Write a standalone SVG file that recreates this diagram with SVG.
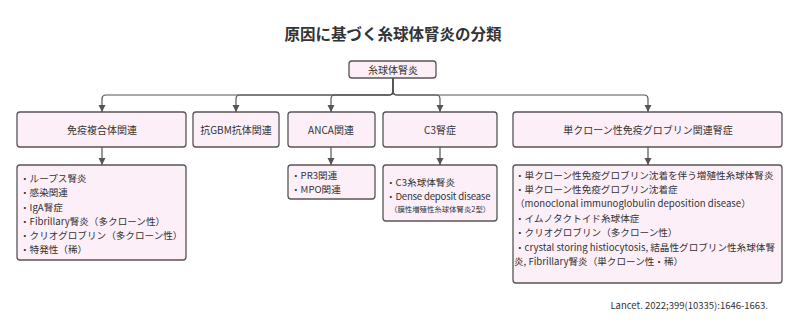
<svg xmlns="http://www.w3.org/2000/svg" width="800" height="330" viewBox="0 0 800 330">
<defs>
<style>
text{font-family:"Noto Sans CJK JP","Noto Sans",sans-serif;fill:#333;}
.title{font-size:15.5px;font-weight:bold;text-anchor:middle;}
.box{fill:#fdeff8;stroke:#555;stroke-width:1.3;}
.lbl{font-size:10px;text-anchor:middle;dominant-baseline:central;}
.itm{font-size:9.6px;dominant-baseline:central;}
.sm{font-size:7.4px;dominant-baseline:central;}
.edge{fill:none;stroke:#555;stroke-width:1.2;}
.ref{font-size:9.5px;text-anchor:end;dominant-baseline:central;}
</style>
<marker id="ah" markerUnits="userSpaceOnUse" markerWidth="8" markerHeight="8" refX="7" refY="3.5" orient="auto">
<path d="M0,0 L7,3.5 L0,7 z" fill="#555"/>
</marker>
</defs>
<rect width="800" height="330" fill="#fff"/>
<text class="title" x="393" y="40">原因に基づく糸球体腎炎の分類</text>

<g id="connectors">
<path class="edge" marker-end="url(#ah)" d="M393,78 V91 Q393,95 389,95 H106 Q102,95 102,99 V112"/>
<path class="edge" marker-end="url(#ah)" d="M393,78 V91 Q393,95 389,95 H240 Q236,95 236,99 V112"/>
<path class="edge" marker-end="url(#ah)" d="M393,78 V91 Q393,95 389,95 H335 Q331,95 331,99 V112"/>
<path class="edge" marker-end="url(#ah)" d="M393,78 V91 Q393,95 397,95 H436 Q440,95 440,99 V112"/>
<path class="edge" marker-end="url(#ah)" d="M393,78 V91 Q393,95 397,95 H644 Q648,95 648,99 V112"/>
<path class="edge" marker-end="url(#ah)" d="M102,147 V165"/>
<path class="edge" marker-end="url(#ah)" d="M331,147 V165"/>
<path class="edge" marker-end="url(#ah)" d="M440,147 V165"/>
<path class="edge" marker-end="url(#ah)" d="M648,147 V165"/>
</g>

<g id="root">
<rect class="box" x="349" y="61" width="87" height="17" rx="3"/>
<text class="lbl" x="393" y="69.5">糸球体腎炎</text>
</g>

<g id="immune">
<rect class="box" x="17" y="112" width="169" height="35" rx="3"/>
<text class="lbl" x="102" y="129.5">免疫複合体関連</text>
</g>
<g id="gbm">
<rect class="box" x="193" y="112" width="86" height="35" rx="3"/>
<text class="lbl" x="236" y="129.5">抗GBM抗体関連</text>
</g>
<g id="anca">
<rect class="box" x="288" y="112" width="87" height="35" rx="3"/>
<text class="lbl" x="331" y="129.5">ANCA関連</text>
</g>
<g id="c3">
<rect class="box" x="383" y="112" width="114" height="35" rx="3"/>
<text class="lbl" x="440" y="129.5">C3腎症</text>
</g>
<g id="mono">
<rect class="box" x="513" y="112" width="269" height="35" rx="3"/>
<text class="lbl" x="648" y="129.5">単クローン性免疫グロブリン関連腎症</text>
</g>

<g id="immune-detail">
<rect class="box" x="17" y="165" width="169" height="95" rx="3"/>
<text class="itm" x="20" y="178">・ループス腎炎</text>
<text class="itm" x="20" y="192">・感染関連</text>
<text class="itm" x="20" y="207">・IgA腎症</text>
<text class="itm" x="20" y="221">・Fibrillary腎炎（多クローン性）</text>
<text class="itm" x="20" y="235">・クリオグロブリン（多クローン性）</text>
<text class="itm" x="20" y="249">・特発性（稀）</text>
</g>

<g id="anca-detail">
<rect class="box" x="288" y="165" width="87" height="34" rx="3"/>
<text class="itm" x="291" y="175">・PR3関連</text>
<text class="itm" x="291" y="189">・MPO関連</text>
</g>

<g id="c3-detail">
<rect class="box" x="383" y="165" width="114" height="56" rx="3"/>
<text class="itm" x="386" y="182">・C3糸球体腎炎</text>
<text class="itm" x="386" y="196" letter-spacing="-0.2">・Dense deposit disease</text>
<text class="sm" x="390" y="208">（膜性増殖性糸球体腎炎2型）</text>
</g>

<g id="mono-detail">
<rect class="box" x="513" y="165" width="269" height="118" rx="3"/>
<text class="itm" x="515" y="175">・単クローン性免疫グロブリン沈着を伴う増殖性糸球体腎炎</text>
<text class="itm" x="515" y="189">・単クローン性免疫グロブリン沈着症</text>
<text class="itm" x="515" y="203">（monoclonal immunoglobulin deposition disease）</text>
<text class="itm" x="515" y="218">・イムノタクトイド糸球体症</text>
<text class="itm" x="515" y="232">・クリオグロブリン（多クローン性）</text>
<text class="itm" x="515" y="247">・crystal storing histiocytosis, 結晶性グロブリン性糸球体腎</text>
<text class="itm" x="514" y="261">炎, Fibrillary腎炎（単クローン性・稀）</text>
</g>

<text class="ref" x="768" y="305">Lancet. 2022;399(10335):1646-1663.</text>
</svg>
